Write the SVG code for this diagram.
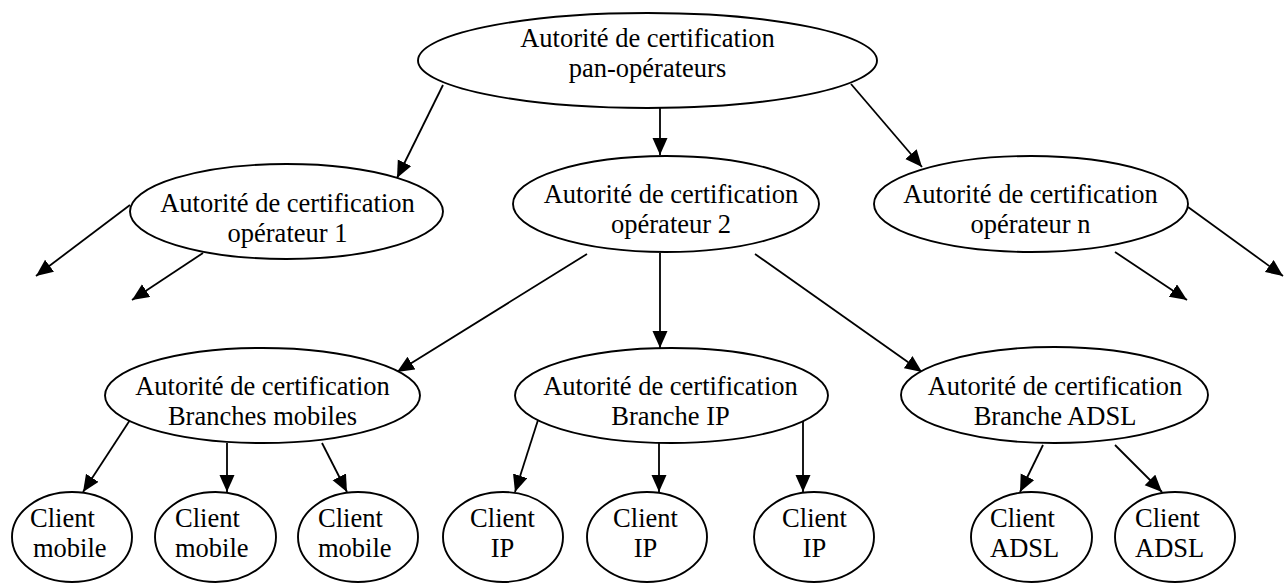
<svg xmlns="http://www.w3.org/2000/svg" width="1288" height="583" viewBox="0 0 1288 583">
  <style>
    .node ellipse { fill: #ffffff; stroke: #000000; stroke-width: 1.9; }
    .node text { font-family: 'Liberation Serif', 'Times New Roman', serif; font-size: 26.5px; fill: #000000; }
    .mid { text-anchor: middle; }
    .start { text-anchor: start; }
    #connectors line { stroke: #000000; stroke-width: 1.8; marker-end: url(#arrow); }
  </style>
  <defs>
    <marker id="arrow" markerUnits="userSpaceOnUse" markerWidth="18" markerHeight="16" refX="17" refY="7.5" orient="auto">
      <path d="M0,0 L17,7.5 L0,15 Z" fill="#000000"/>
    </marker>
  </defs>
  <rect width="1288" height="583" fill="#ffffff"/>

  <!-- connectors -->
  <g id="connectors">
    <!-- root to operators -->
    <line x1="443" y1="85" x2="397" y2="178"/>
    <line x1="660" y1="108" x2="660" y2="155"/>
    <line x1="851" y1="84" x2="922" y2="167"/>
    <!-- operator 1 children (not shown) -->
    <line x1="130" y1="205" x2="36" y2="276"/>
    <line x1="203" y1="253" x2="132" y2="300"/>
    <!-- operator n children (not shown) -->
    <line x1="1188" y1="207" x2="1283" y2="276"/>
    <line x1="1115" y1="252" x2="1187" y2="300"/>
    <!-- operator 2 to branches -->
    <line x1="587" y1="254" x2="397" y2="372"/>
    <line x1="660" y1="253" x2="660" y2="348"/>
    <line x1="755" y1="254" x2="922" y2="372"/>
    <!-- mobile branch to clients -->
    <line x1="130" y1="420" x2="83" y2="492"/>
    <line x1="227" y1="443" x2="227" y2="492"/>
    <line x1="322" y1="443" x2="347" y2="492"/>
    <!-- IP branch to clients -->
    <line x1="538" y1="420" x2="515" y2="492"/>
    <line x1="659" y1="443" x2="659" y2="492"/>
    <line x1="803" y1="420" x2="803" y2="492"/>
    <!-- ADSL branch to clients -->
    <line x1="1043" y1="445" x2="1020" y2="492"/>
    <line x1="1115" y1="445" x2="1162" y2="492"/>
  </g>

  <!-- root authority -->
  <g id="ca-root" class="node">
    <ellipse cx="647.5" cy="60.5" rx="229.5" ry="47.5"/>
    <text class="mid" x="647.5" y="47">Autorité de certification</text>
    <text class="mid" x="647.5" y="77">pan-opérateurs</text>
  </g>

  <!-- operator authorities -->
  <g id="ca-op1" class="node">
    <ellipse cx="286.5" cy="211.5" rx="156.5" ry="47.5"/>
    <text class="mid" x="287.5" y="212">Autorité de certification</text>
    <text class="mid" x="287.5" y="242">opérateur 1</text>
  </g>
  <g id="ca-op2" class="node">
    <ellipse cx="666" cy="204" rx="153" ry="48"/>
    <text class="mid" x="671" y="203">Autorité de certification</text>
    <text class="mid" x="671" y="233">opérateur 2</text>
  </g>
  <g id="ca-opn" class="node">
    <ellipse cx="1031" cy="204" rx="157" ry="48"/>
    <text class="mid" x="1030.5" y="203">Autorité de certification</text>
    <text class="mid" x="1030.5" y="233">opérateur n</text>
  </g>

  <!-- branch authorities -->
  <g id="ca-mobile" class="node">
    <ellipse cx="262.5" cy="395.5" rx="157.5" ry="47.5"/>
    <text class="mid" x="262.5" y="395">Autorité de certification</text>
    <text class="mid" x="262.5" y="425">Branches mobiles</text>
  </g>
  <g id="ca-ip" class="node">
    <ellipse cx="671.5" cy="395.5" rx="156.5" ry="47.5"/>
    <text class="mid" x="670.5" y="395">Autorité de certification</text>
    <text class="mid" x="670.5" y="425">Branche IP</text>
  </g>
  <g id="ca-adsl" class="node">
    <ellipse cx="1054.5" cy="395" rx="153.5" ry="48"/>
    <text class="mid" x="1055" y="395">Autorité de certification</text>
    <text class="mid" x="1055" y="425">Branche ADSL</text>
  </g>

  <!-- clients -->
  <g id="client-mobile-1" class="node">
    <ellipse cx="72" cy="537" rx="60" ry="45"/>
    <text class="start" x="30" y="527">Client</text>
    <text class="start" x="33" y="557">mobile</text>
  </g>
  <g id="client-mobile-2" class="node">
    <ellipse cx="215.5" cy="537" rx="60.5" ry="45"/>
    <text class="start" x="175" y="527">Client</text>
    <text class="start" x="175" y="557">mobile</text>
  </g>
  <g id="client-mobile-3" class="node">
    <ellipse cx="358" cy="537" rx="60" ry="45"/>
    <text class="start" x="318" y="527">Client</text>
    <text class="start" x="318" y="557">mobile</text>
  </g>
  <g id="client-ip-1" class="node">
    <ellipse cx="503" cy="537" rx="60" ry="45"/>
    <text class="mid" x="502.5" y="527">Client</text>
    <text class="mid" x="502.5" y="557">IP</text>
  </g>
  <g id="client-ip-2" class="node">
    <ellipse cx="647" cy="537" rx="60" ry="45"/>
    <text class="mid" x="645.5" y="527">Client</text>
    <text class="mid" x="645.5" y="557">IP</text>
  </g>
  <g id="client-ip-3" class="node">
    <ellipse cx="814" cy="537" rx="60" ry="45"/>
    <text class="mid" x="814.5" y="527">Client</text>
    <text class="mid" x="814.5" y="557">IP</text>
  </g>
  <g id="client-adsl-1" class="node">
    <ellipse cx="1031.5" cy="537" rx="60.5" ry="45"/>
    <text class="start" x="990" y="527">Client</text>
    <text class="start" x="990" y="557">ADSL</text>
  </g>
  <g id="client-adsl-2" class="node">
    <ellipse cx="1175" cy="537" rx="60" ry="45"/>
    <text class="start" x="1135" y="527">Client</text>
    <text class="start" x="1135" y="557">ADSL</text>
  </g>
</svg>
